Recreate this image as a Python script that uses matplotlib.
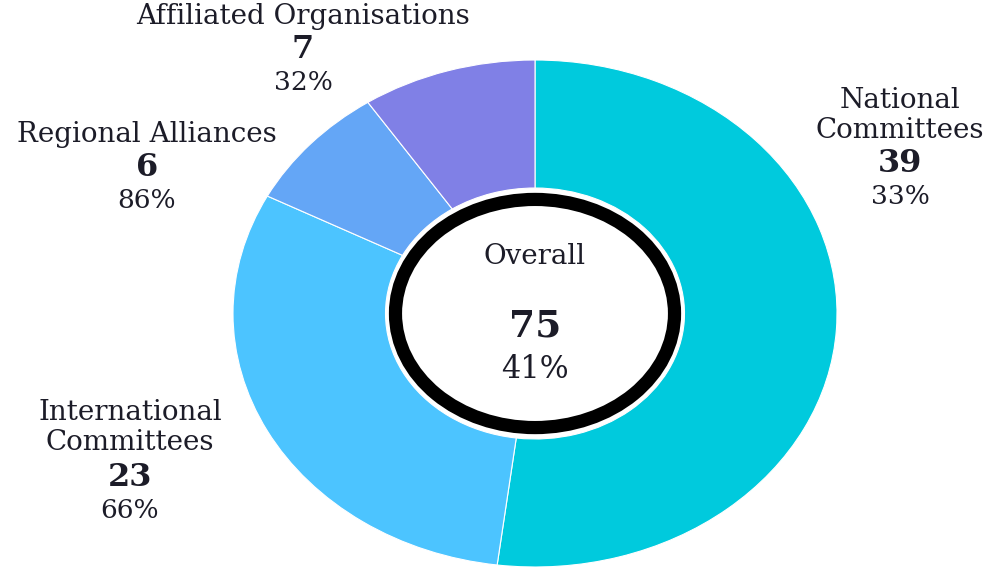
import matplotlib
matplotlib.use('Agg')
import matplotlib.pyplot as plt
from matplotlib.patches import Ellipse

# data
groups = ['National Committees', 'International Committees', 'Regional Alliances', 'Affiliated Organisations']
counts = [39, 23, 6, 7]
rates = ['33%', '66%', '86%', '32%']
overall_rate = '41%'
colors = ['#00CADD', '#4CC4FF', '#64A6F6', '#8080E6']

W, H = 998, 567
plt.rcParams['font.family'] = ['DejaVu Serif']
fig = plt.figure(figsize=(W / 100, H / 100), dpi=100)

# donut axes: radius 1 maps to 302 px horizontally, 253.5 px vertically
cx, cy, rx, ry = 535, 313.5, 302, 253.5
ax = fig.add_axes([(cx - rx) / W, 1 - (cy + ry) / H, 2 * rx / W, 2 * ry / H])
ax.pie(counts, colors=colors, startangle=90, counterclock=False,
       wedgeprops=dict(width=0.505, edgecolor='white', linewidth=0.8))
ax.set_aspect('auto')
ax.set_xlim(-1, 1)
ax.set_ylim(-1, 1)
ax.axis('off')

# centre badge
ax.add_patch(Ellipse((0, 0), 2 * 0.462, 2 * 0.450, facecolor='white',
                     edgecolor='black', linewidth=9.5, clip_on=False))

def put(x, y, s, size=20, weight='normal', color='#1c1c28'):
    fig.text(x / W, 1 - y / H, s, ha='center', va='center',
             fontsize=size, fontweight=weight, color=color)

# label blocks: (x, name line ys, count y, rate y)
layout = [
    (900, [101, 131], 164, 197),
    (130, [412, 442], 478, 510),
    (147, [134], 167, 200),
    (303, [17], 50, 83),
]
for (x, name_ys, ny, ry_), name, n, r in zip(layout, groups, counts, rates):
    parts = name.split(' ') if len(name_ys) == 2 else [name]
    for yy, part in zip(name_ys, parts):
        put(x, yy, part)
    put(x, ny, str(n), size=23, weight='bold')
    put(x, ry_, r, size=19)

put(535, 256, 'Overall')
put(535, 326, str(sum(counts)), size=27, weight='bold')
put(535, 369, overall_rate, size=22)

fig.savefig('out.png', dpi=100)
